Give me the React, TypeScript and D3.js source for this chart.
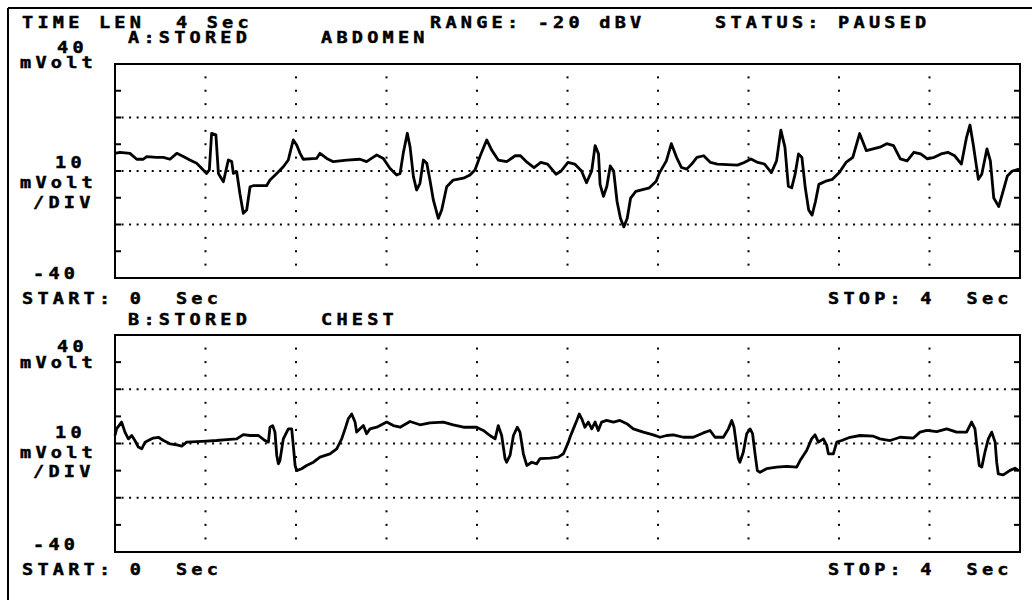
import React from "react";
import * as d3 from "d3";

// ---- data (time in seconds, value in mV) ----
const abdomenTrace: [number, number][] = [
  [0,6.6],[0.022,7.0],[0.066,6.6],[0.096,4.4],[0.125,4.4],[0.140,5.4],[0.184,5.1],[0.214,5.1],[0.243,4.4],[0.273,6.6],
  [0.302,5.4],[0.331,4.1],[0.361,2.9],[0.390,0.4],[0.405,-0.9],[0.417,0.4],[0.427,14.1],[0.446,13.5],[0.457,-0.9],[0.479,-4.0],
  [0.501,4.1],[0.516,3.5],[0.523,-0.9],[0.538,-0.3],[0.552,-8.4],[0.567,-15.8],[0.582,-14.6],[0.597,-5.9],[0.611,-5.5],[0.670,-5.5],
  [0.685,-3.4],[0.715,-0.9],[0.744,1.6],[0.766,4.1],[0.773,6.6],[0.788,11.6],[0.803,9.7],[0.818,6.6],[0.832,4.4],[0.891,4.7],
  [0.906,6.6],[0.936,4.7],[0.965,3.5],[1.024,4.1],[1.083,4.4],[1.112,3.5],[1.157,6.0],[1.186,4.7],[1.215,1.0],[1.245,-1.5],
  [1.260,-0.9],[1.274,6.6],[1.292,14.1],[1.304,9.1],[1.319,-2.1],[1.333,-7.1],[1.348,-4.6],[1.363,4.1],[1.378,2.9],[1.392,-3.4],
  [1.407,-10.8],[1.429,-17.7],[1.444,-14.6],[1.466,-5.9],[1.495,-3.4],[1.540,-2.7],[1.569,-1.5],[1.591,0.4],[1.613,5.4],[1.643,11.6],
  [1.665,7.8],[1.694,4.1],[1.731,3.5],[1.769,5.7],[1.792,5.7],[1.822,3.2],[1.852,1.3],[1.882,3.2],[1.912,2.6],[1.949,-1.2],
  [1.972,0.0],[2.002,3.2],[2.032,2.6],[2.062,0.0],[2.084,-4.4],[2.107,0.0],[2.122,9.5],[2.137,6.4],[2.144,-5.0],[2.159,-9.5],
  [2.174,-5.7],[2.189,1.9],[2.204,0.0],[2.219,-11.4],[2.234,-17.7],[2.249,-20.9],[2.264,-17.7],[2.279,-10.1],[2.302,-7.6],[2.362,-6.3],
  [2.392,-3.8],[2.407,-0.6],[2.437,3.8],[2.459,10.2],[2.482,5.1],[2.504,1.3],[2.527,0.7],[2.549,2.6],[2.572,5.1],[2.602,5.7],
  [2.632,3.2],[2.662,2.6],[2.751,2.2],[2.781,3.2],[2.811,4.5],[2.841,3.2],[2.871,2.6],[2.901,-0.6],[2.924,3.8],[2.943,15.3],
  [2.961,8.9],[2.976,-5.7],[2.991,-6.3],[3.006,-1.2],[3.021,6.4],[3.036,5.1],[3.051,-6.3],[3.066,-14.6],[3.081,-16.5],[3.096,-11.4],
  [3.111,-5.0],[3.141,-3.8],[3.171,-3.1],[3.201,-0.6],[3.231,3.2],[3.261,5.1],[3.291,14.0],[3.321,7.6],[3.351,8.3],[3.381,8.9],
  [3.411,10.2],[3.441,9.5],[3.471,4.5],[3.501,3.8],[3.531,7.0],[3.561,6.4],[3.591,4.5],[3.621,5.1],[3.651,6.4],[3.681,7.0],
  [3.711,5.7],[3.741,2.6],[3.764,12.7],[3.779,17.2],[3.794,9.5],[3.816,-3.1],[3.831,-1.2],[3.854,8.3],[3.869,3.8],[3.884,-10.1],
  [3.906,-13.3],[3.921,-8.8],[3.944,-1.9],[3.966,0.0],[3.996,0.7]
];

const chestTrace: [number, number][] = [
  [0,2.95],[0.007,5.4],[0.029,7.9],[0.044,4.2],[0.059,1.7],[0.074,2.95],[0.088,1.1],[0.103,-1.3],[0.118,-1.96],[0.133,0.5],
  [0.147,1.1],[0.169,2.0],[0.192,2.3],[0.214,1.1],[0.243,-0.1],[0.273,-0.5],[0.295,-1.0],[0.317,0.5],[0.361,0.7],[0.405,0.9],
  [0.449,1.1],[0.494,1.4],[0.538,1.7],[0.567,3.3],[0.597,2.95],[0.634,2.95],[0.663,1.1],[0.678,0.5],[0.685,6.0],[0.697,6.6],
  [0.707,4.2],[0.715,-4.4],[0.722,-7.5],[0.729,-6.3],[0.744,1.7],[0.766,5.4],[0.781,5.4],[0.788,-0.7],[0.796,-8.1],[0.803,-10.0],
  [0.825,-9.3],[0.847,-8.1],[0.877,-6.9],[0.906,-5.0],[0.950,-3.8],[0.980,-1.96],[1.002,1.7],[1.017,5.4],[1.031,9.1],[1.046,10.9],
  [1.061,7.9],[1.068,4.2],[1.083,5.4],[1.098,6.6],[1.112,3.6],[1.127,5.4],[1.157,6.0],[1.201,7.9],[1.230,6.6],[1.260,6.0],
  [1.304,8.1],[1.348,6.9],[1.392,7.6],[1.451,7.9],[1.495,6.9],[1.540,6.0],[1.598,6.0],[1.628,4.8],[1.657,2.95],[1.680,1.7],
  [1.694,6.6],[1.709,2.95],[1.724,-5.6],[1.731,-6.9],[1.746,-4.4],[1.761,2.95],[1.778,6.0],[1.790,4.2],[1.805,-3.8],[1.820,-8.1],
  [1.842,-6.9],[1.864,-7.5],[1.878,-5.6],[1.923,-5.4],[1.959,-5.0],[1.982,-3.8],[2.004,0.5],[2.011,2.3],[2.026,5.4],[2.041,8.5],
  [2.052,10.9],[2.063,9.1],[2.077,6.0],[2.092,7.9],[2.107,5.4],[2.122,7.9],[2.136,4.8],[2.151,7.9],[2.173,8.5],[2.203,7.9],
  [2.232,8.5],[2.262,7.3],[2.291,5.4],[2.335,4.2],[2.379,3.2],[2.409,2.3],[2.438,2.95],[2.468,3.2],[2.512,2.3],[2.556,2.3],
  [2.600,3.9],[2.630,4.8],[2.652,2.3],[2.689,2.3],[2.711,5.4],[2.726,8.5],[2.736,6.0],[2.745,0.5],[2.755,-5.6],[2.762,-6.9],
  [2.777,-3.2],[2.792,3.6],[2.807,5.4],[2.818,3.6],[2.829,-3.8],[2.839,-10.0],[2.851,-10.6],[2.880,-9.3],[2.925,-8.7],[2.969,-8.4],
  [3.013,-8.7],[3.028,-6.3],[3.057,-2.6],[3.079,1.7],[3.094,3.2],[3.109,0.5],[3.131,1.7],[3.146,-0.7],[3.153,-3.8],[3.175,-3.8],
  [3.190,0.5],[3.212,1.1],[3.249,2.3],[3.293,2.95],[3.352,2.7],[3.381,1.7],[3.426,1.1],[3.470,2.3],[3.529,2.0],[3.558,4.2],
  [3.588,4.8],[3.632,4.4],[3.676,5.4],[3.720,4.2],[3.764,4.2],[3.786,7.9],[3.801,5.4],[3.809,-0.7],[3.820,-8.1],[3.831,-8.7],
  [3.845,-3.2],[3.860,1.7],[3.875,4.2],[3.890,0.5],[3.897,-6.9],[3.904,-11.2],[3.926,-11.6],[3.956,-9.9],[3.978,-9.1],[3.993,-9.9]
];

const timeDomain = [0, 4];
const voltDomain = [-40, 40];
const timeDivisions = 10;
const gridVolts = [-20, 0, 20];
const tickVolts = [-30, -20, -10, 0, 10, 20, 30];
const subDotVolts = [-35, -30, -25, -15, -10, -5, 5, 10, 15, 25, 30, 35];

const headerTexts = ["TIME LEN  4 Sec", "RANGE: -20 dBV", "STATUS: PAUSED"];
const channelNames = ["A:STORED", "B:STORED"];
const channelSites = ["ABDOMEN", "CHEST"];
const topLabel = "40";
const midLabel = ["10", "mVolt", "/DIV"];
const bottomLabel = "-40";
const unitLabel = "mVolt";
const startLabel = "START: 0  Sec";
const stopLabel = "STOP: 4  Sec";

const SX = 1.22;
const ADV = 15.4;
const FONT_SIZE = 15.2;
const FONT = {
  fontFamily: "'DejaVu Sans Mono', monospace",
  fontWeight: 700,
  fontSize: FONT_SIZE,
  letterSpacing: ADV / SX - FONT_SIZE * 0.602,
  whiteSpace: "pre",
};

const X0 = 115;
const X1 = 1020;

type PanelCfg = {
  top: number;
  bottom: number;
  trace: [number, number][];
  name: string;
  site: string;
  nameY: number;
  lbl: { top: number; unit: number; mid: number; mid2: number; mid3: number; bot: number; start: number };
};

function Txt({ x, y, children }: { x: number; y: number; children: React.ReactNode }) {
  return (
    <text
      transform={`translate(${x},${y}) scale(${SX},1)`}
      fill="#000"
      stroke="#000"
      strokeWidth={0.45}
      style={FONT as any}
    >
      {children}
    </text>
  );
}

function Panel({ cfg }: { cfg: PanelCfg }) {
  const x = d3.scaleLinear().domain(timeDomain).range([X0, X1]);
  const y = d3.scaleLinear().domain(voltDomain).range([cfg.bottom, cfg.top]);
  const line = d3
    .line<[number, number]>()
    .x((d) => x(d[0]))
    .y((d) => y(d[1]))
    .curve(d3.curveLinear);
  const step = (timeDomain[1] - timeDomain[0]) / timeDivisions;
  const vGrid = d3.range(1, timeDivisions).map((i) => i * step);
  const hDots = d3.range(1, timeDivisions * 12).map((i) => (i * step) / 12);
  return (
    <g>
      {gridVolts.map((v) =>
        hDots.map((t, i) => (
          <rect key={`h${v}-${i}`} x={x(t) - 1} y={y(v) - 1} width={2} height={2} fill="#000" />
        ))
      )}
      {vGrid.map((t) =>
        subDotVolts.map((v) => (
          <rect key={`v${t}-${v}`} x={x(t) - 1} y={y(v) - 1} width={2} height={2} fill="#000" />
        ))
      )}
      {tickVolts.map((v) => (
        <g key={`t${v}`}>
          <line x1={X0} x2={X0 + 6} y1={y(v)} y2={y(v)} stroke="#000" strokeWidth={2} />
          <line x1={X1 - 6} x2={X1} y1={y(v)} y2={y(v)} stroke="#000" strokeWidth={2} />
        </g>
      ))}
      <rect x={X0} y={cfg.top} width={X1 - X0} height={cfg.bottom - cfg.top} fill="none" stroke="#000" strokeWidth={2} />
      <path d={line(cfg.trace) || ""} fill="none" stroke="#000" strokeWidth={2.8} strokeLinejoin="round" />
      <Txt x={128} y={cfg.nameY}>{cfg.name}</Txt>
      <Txt x={321} y={cfg.nameY}>{cfg.site}</Txt>
      <Txt x={57} y={cfg.lbl.top}>{topLabel}</Txt>
      <Txt x={20} y={cfg.lbl.unit}>{unitLabel}</Txt>
      <Txt x={55} y={cfg.lbl.mid}>{midLabel[0]}</Txt>
      <Txt x={20} y={cfg.lbl.mid2}>{midLabel[1]}</Txt>
      <Txt x={33} y={cfg.lbl.mid3}>{midLabel[2]}</Txt>
      <Txt x={33} y={cfg.lbl.bot}>{bottomLabel}</Txt>
      <Txt x={22} y={cfg.lbl.start}>{startLabel}</Txt>
      <Txt x={828} y={cfg.lbl.start}>{stopLabel}</Txt>
    </g>
  );
}

const panels: PanelCfg[] = [
  {
    top: 64, bottom: 278, trace: abdomenTrace, name: channelNames[0], site: channelSites[0], nameY: 43,
    lbl: { top: 53, unit: 68, mid: 168, mid2: 188, mid3: 208, bot: 279, start: 304 },
  },
  {
    top: 335, bottom: 552, trace: chestTrace, name: channelNames[1], site: channelSites[1], nameY: 325,
    lbl: { top: 352, unit: 368, mid: 438, mid2: 458, mid3: 477, bot: 550, start: 575 },
  },
];

export default function App() {
  return (
    <svg width={1032} height={600} style={{ position: "fixed", left: 0, top: 0, background: "#fff" }}>
      <rect x={0} y={0} width={1032} height={600} fill="#fff" />
      <line x1={8} x2={1032} y1={8} y2={8} stroke="#000" strokeWidth={2} />
      <line x1={8} x2={8} y1={8} y2={600} stroke="#000" strokeWidth={2} />
      <Txt x={22} y={28}>{headerTexts[0]}</Txt>
      <Txt x={430} y={28}>{headerTexts[1]}</Txt>
      <Txt x={715} y={28}>{headerTexts[2]}</Txt>
      {panels.map((p, i) => (
        <Panel key={i} cfg={p} />
      ))}
    </svg>
  );
}
